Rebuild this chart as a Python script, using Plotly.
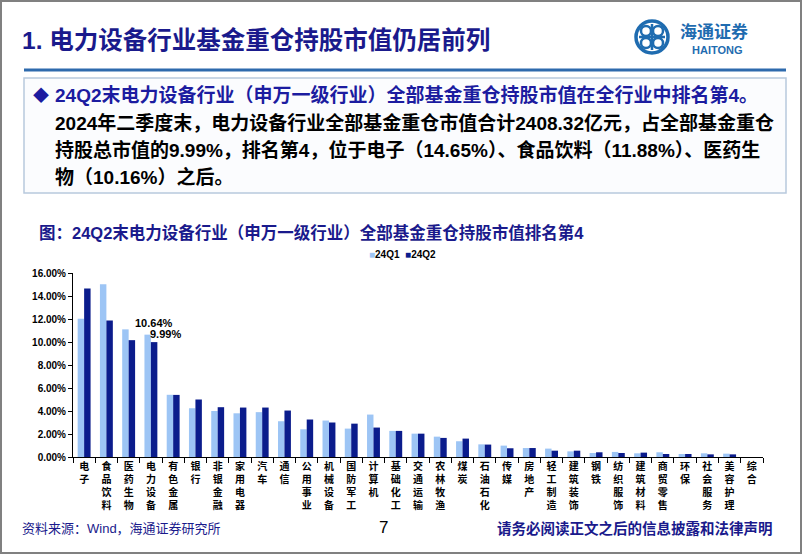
import plotly.graph_objects as go

categories = ["电子", "食品饮料", "医药生物", "电力设备", "有色金属", "银行", "非银金融", "家用电器",
              "汽车", "通信", "公用事业", "机械设备", "国防军工", "计算机", "基础化工", "交通运输",
              "农林牧渔", "煤炭", "石油石化", "传媒", "房地产", "轻工制造", "建筑装饰", "钢铁",
              "纺织服饰", "建筑材料", "商贸零售", "环保", "社会服务", "美容护理", "综合"]
q1_values = [12.02, 15.03, 11.10, 10.64, 5.41, 4.24, 4.00, 3.80, 3.90, 3.11, 2.41, 3.17, 2.47, 3.69,
             2.27, 2.03, 1.77, 1.37, 1.10, 0.99, 0.78, 0.73, 0.49, 0.35, 0.44, 0.32, 0.41, 0.26, 0.32, 0.29, 0.0]
q2_values = [14.65, 11.88, 10.16, 9.99, 5.40, 5.00, 4.33, 4.30, 4.30, 4.04, 3.26, 3.00, 2.90, 2.56,
             2.27, 2.03, 1.66, 1.60, 1.08, 0.76, 0.78, 0.55, 0.55, 0.41, 0.35, 0.38, 0.26, 0.26, 0.23, 0.23, 0.0]
series_names = ["24Q1", "24Q2"]
y_ticks = [0, 2, 4, 6, 8, 10, 12, 14, 16]

C_LIGHT = "#9DC5F5"
C_DARK = "#0B1C8C"
NAVY = "#1A1A8C"
FONT = "Liberation Sans, Arial, Noto Sans CJK SC, sans-serif"

W, H = 802, 554
L, R, T, B = 73, 39, 273, 97
PW, PH = W - L - R, H - T - B
PX_PER_UNIT = PH / 16.0


def px(x):
    return (x - L) / PW


def py(y):
    return (H - B - y) / PH


tick_text = ["<br>".join(list(c)) for c in categories]

fig = go.Figure()
fig.add_trace(go.Bar(x=categories, y=q1_values, name=series_names[0], marker_color=C_LIGHT,
                     marker_line_width=0))
fig.add_trace(go.Bar(x=categories, y=q2_values, name=series_names[1], marker_color=C_DARK,
                     marker_line_width=0))

fig.update_layout(
    width=W, height=H,
    margin=dict(l=L, r=R, t=T, b=B, pad=0),
    paper_bgcolor="white", plot_bgcolor="white",
    barmode="group", bargap=0.42, bargroupgap=0.0,
    showlegend=False,
    font=dict(family=FONT, color="black"),
)
fig.update_xaxes(
    type="category", tickmode="array", tickvals=categories, ticktext=tick_text,
    tickson="boundaries", ticks="outside", ticklen=5, tickcolor="black", tickwidth=1,
    showline=True, linecolor="black", linewidth=1, showgrid=False,
    tickfont=dict(family="Noto Sans CJK SC, sans-serif", size=10, color="black", weight="bold"),
    tickangle=0,
)
fig.update_yaxes(
    range=[0, 16], tickvals=y_ticks, ticktext=[f"{v:.2f}%" for v in y_ticks],
    ticks="outside", ticklen=4, tickcolor="black", showline=True, linecolor="black", linewidth=1,
    showgrid=False, zeroline=False,
    tickfont=dict(family=FONT, size=10, color="black", weight="bold"),
)

shapes = []
# outer frame
shapes.append(dict(type="rect", xref="paper", yref="paper", x0=px(1), x1=px(801), y0=py(1), y1=py(553),
                   line=dict(color="#808080", width=2), fillcolor="rgba(0,0,0,0)", layer="below"))
# blue rule under title
shapes.append(dict(type="line", xref="paper", yref="paper", x0=px(24), x1=px(786), y0=py(70), y1=py(70),
                   line=dict(color="#2E6AAD", width=3)))
# text box
shapes.append(dict(type="rect", xref="paper", yref="paper", x0=px(24), x1=px(786), y0=py(78), y1=py(193),
                   line=dict(color="#B8C9DD", width=1.5), fillcolor="#FBFCFE", layer="below"))
# logo emblem
cx, cy, r = 652, 37, 16
shapes.append(dict(type="circle", xref="paper", yref="paper", x0=px(cx - r), x1=px(cx + r),
                   y0=py(cy + r), y1=py(cy - r), line=dict(color="#1F6CB0", width=3.5)))
for dx, dy in [(-6, -6), (6, -6), (-6, 6), (6, 6)]:
    rr = 5
    shapes.append(dict(type="circle", xref="paper", yref="paper", x0=px(cx + dx - rr), x1=px(cx + dx + rr),
                       y0=py(cy + dy + rr), y1=py(cy + dy - rr), line=dict(color="#1F6CB0", width=2.5)))
shapes.append(dict(type="line", xref="paper", yref="paper", x0=px(cx), x1=px(cx), y0=py(cy - 13), y1=py(cy + 13),
                   line=dict(color="#1F6CB0", width=2.5)))
shapes.append(dict(type="line", xref="paper", yref="paper", x0=px(cx - 13), x1=px(cx + 13), y0=py(cy), y1=py(cy),
                   line=dict(color="#1F6CB0", width=2.5)))
fig.update_layout(shapes=shapes)


def txt(x, y, s, size, color="black", bold=False, xanchor="left", family=FONT):
    fig.add_annotation(xref="paper", yref="paper", x=px(x), y=py(y), text=s, showarrow=False,
                       xanchor=xanchor, yanchor="middle",
                       font=dict(family=family, size=size, color=color, weight="bold" if bold else "normal"))


txt(20, 40, "1. 电力设备行业基金重仓持股市值仍居前列", 24.5, NAVY, True)
txt(678, 30, "海通证券", 17, "#1F6CB0", True, family="Noto Sans CJK SC, sans-serif")
txt(717, 50, "HAITONG", 11, "#1F6CB0", True, xanchor="center")

txt(31, 95, "◆", 16, "#1C1CA0", True)
txt(53, 95, "24Q2末电力设备行业（申万一级行业）全部基金重仓持股市值在全行业中排名第4。", 19, "#1C1CA0", True)
txt(53, 123, "2024年二季度末，电力设备行业全部基金重仓市值合计2408.32亿元，占全部基金重仓", 19, "black", True)
txt(53, 150, "持股总市值的9.99%，排名第4，位于电子（14.65%）、食品饮料（11.88%）、医药生", 19, "black", True)
txt(53, 177, "物（10.16%）之后。", 19, "black", True)

txt(37, 232, "图：24Q2末电力设备行业（申万一级行业）全部基金重仓持股市值排名第4", 16.5, NAVY, True)

# legend
txt(367, 254, f"<span style='color:{C_LIGHT}'>■</span>{series_names[0]}  "
              f"<span style='color:{C_DARK}'>■</span>{series_names[1]}", 10, "black", True)

# value labels for 电力设备 (positioned relative to bar tops)
fig.add_annotation(x=categories[3], y=q1_values[3], text=f"{q1_values[3]:.2f}%", showarrow=False,
                   xshift=3, yshift=12, yanchor="middle",
                   font=dict(family=FONT, size=11, color="black", weight="bold"))
fig.add_annotation(x=categories[3], y=q2_values[3], text=f"{q2_values[3]:.2f}%", showarrow=False,
                   xshift=15, yshift=8, yanchor="middle",
                   font=dict(family=FONT, size=11, color="black", weight="bold"))

txt(20, 528, "资料来源：Wind，海通证券研究所", 13, NAVY, False)
txt(383, 527, "7", 17, "black", False, xanchor="center")
txt(495, 528, "请务必阅读正文之后的信息披露和法律声明", 14.5, NAVY, True)

fig.write_html("out.html")
